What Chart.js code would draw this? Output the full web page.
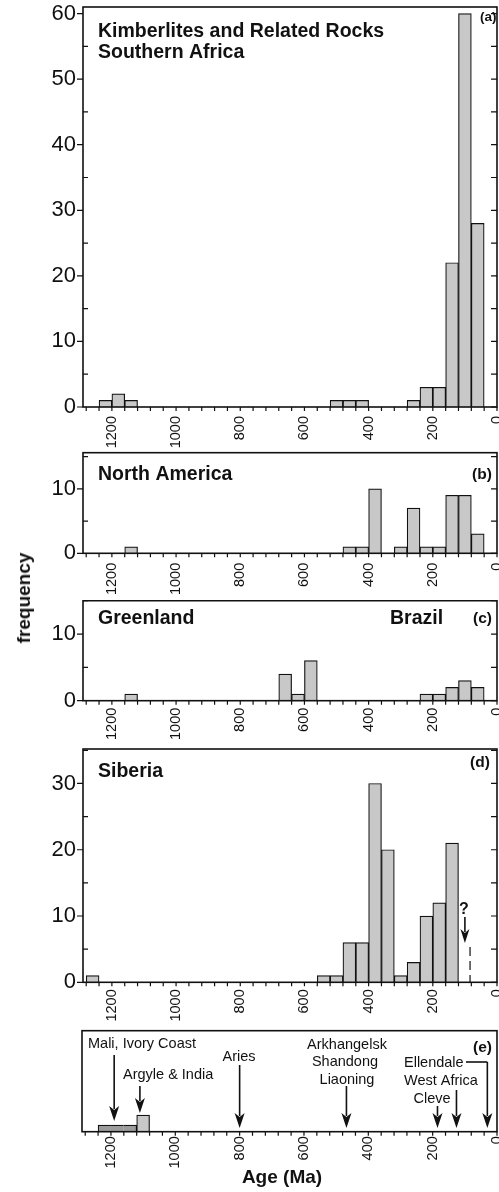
<!DOCTYPE html>
<html>
<head>
<meta charset="utf-8">
<script src="https://cdn.jsdelivr.net/npm/chart.js@4.4.1/dist/chart.umd.min.js"></script>
<style>
  body { margin: 0; background: #fff; }
  #wrap { position: relative; width: 499px; height: 1192px; overflow: hidden; }
  .panel { position: absolute; left: 0; width: 499px; }
  .lab { position: absolute; font-family: "Liberation Sans", Arial, sans-serif; font-weight: bold;
         font-size: 19px; color: #111; white-space: nowrap; transform: translate(-50%, -50%); }
</style>
</head>
<body>
<div id="wrap">
  <div class="panel" style="top:0;height:450px"><canvas id="pa"></canvas></div>
  <div class="panel" style="top:450px;height:150px"><canvas id="pb"></canvas></div>
  <div class="panel" style="top:600px;height:147px"><canvas id="pc"></canvas></div>
  <div class="panel" style="top:747px;height:281px"><canvas id="pd"></canvas></div>
  <div class="panel" style="top:1028px;height:164px"><canvas id="pe"></canvas></div>
  <div class="lab" style="left:24px;top:598px;transform:translate(-50%,-50%) rotate(-90deg)">frequency</div>
  <div class="lab" style="left:282px;top:1177px">Age (Ma)</div>
</div>
<script>
// bin centres (Ma), 40 Ma bins
const binAges = [1260, 1220, 1180, 1140, 1100, 1060, 1020, 980, 940, 900, 860, 820, 780, 740, 700, 660,
                 620, 580, 540, 500, 460, 420, 380, 340, 300, 260, 220, 180, 140, 100, 60, 20];
const southernAfrica = [0, 1, 2, 1, 0, 0, 0, 0, 0, 0, 0, 0, 0, 0, 0, 0,
                        0, 0, 0, 1, 1, 1, 0, 0, 0, 1, 3, 3, 22, 60, 28, 0];
const northAmerica   = [0, 0, 0, 1, 0, 0, 0, 0, 0, 0, 0, 0, 0, 0, 0, 0,
                        0, 0, 0, 0, 1, 1, 10, 0, 1, 7, 1, 1, 9, 9, 3, 0];
const greenlandBrazil = [0, 0, 0, 1, 0, 0, 0, 0, 0, 0, 0, 0, 0, 0, 0, 4,
                         1, 6, 0, 0, 0, 0, 0, 0, 0, 0, 1, 1, 2, 3, 2, 0];
const siberia        = [1, 0, 0, 0, 0, 0, 0, 0, 0, 0, 0, 0, 0, 0, 0, 0,
                        0, 0, 1, 1, 6, 6, 30, 20, 1, 3, 10, 12, 21, 0, 0, 0];
const otherAreas     = [0, 1, 1, 1, 2.5, 0, 0, 0, 0, 0, 0, 0, 0, 0, 0, 0,
                        0, 0, 0, 0, 0, 0, 0, 0, 0, 0, 0, 0, 0, 0, 0, 0];

// (d) uncertain young Siberian pipe: arrow age, dashed line age
const siberiaMarkAges = [100, 84];

// (e) single dated localities
const eventAges = [1190, 1110, 800, 468, 185, 126, 30];

const INK = '#111';
const FONT = '"Liberation Sans", Arial, Helvetica, sans-serif';
const BAR = '#c8c8c8';
const BAR_DARK = '#9c9c9c';

function arrow(ctx, px, y0, y1, hw, hl) {
  ctx.beginPath();
  ctx.moveTo(px, y0); ctx.lineTo(px, y1 - hl + 3);
  ctx.stroke();
  ctx.beginPath();
  ctx.moveTo(px, y1);
  ctx.lineTo(px - hw, y1 - hl);
  ctx.lineTo(px, y1 - hl + 4);
  ctx.lineTo(px + hw, y1 - hl);
  ctx.closePath();
  ctx.fill();
}

function makeDeco(cfg) {
  return {
    id: 'deco',
    afterDatasetsDraw(chart) {
      const { ctx, chartArea: a, scales: { x, y } } = chart;
      ctx.save();
      ctx.strokeStyle = INK;
      ctx.fillStyle = INK;
      ctx.lineWidth = 1.6;
      ctx.strokeRect(a.left, a.top, a.right - a.left, a.bottom - a.top);
      ctx.lineWidth = 1.2;
      ctx.beginPath();
      x.ticks.forEach(t => {
        const px = x.getPixelForValue(t.value);
        ctx.moveTo(px, a.bottom); ctx.lineTo(px, a.bottom + 4);
      });
      if (cfg.yTicks !== false) {
        y.ticks.forEach(t => {
          const py = y.getPixelForValue(t.value);
          if (t.value % 10 === 0) { ctx.moveTo(a.left - 6, py); ctx.lineTo(a.left, py); }
          else { ctx.moveTo(a.left, py); ctx.lineTo(a.left + 5, py); }
          ctx.moveTo(a.right - 6, py); ctx.lineTo(a.right, py);
        });
      }
      ctx.stroke();
      ctx.textBaseline = 'middle';
      (cfg.texts || []).forEach(([s, tx, ty, size, weight, align]) => {
        ctx.font = `${weight} ${size}px ${FONT}`;
        ctx.textAlign = align;
        ctx.fillText(s, tx, ty);
      });
      if (cfg.extra) cfg.extra(chart, ctx);
      ctx.restore();
    }
  };
}

function histogram(id, values, cfg) {
  const w = 1.2;
  return new Chart(document.getElementById(id), {
    type: 'bar',
    data: {
      datasets: [{
        data: binAges.map((age, i) => ({ x: age, y: values[i] })),
        backgroundColor: cfg.fill || BAR,
        borderColor: INK,
        borderWidth: cfg.merge ? (c => {
          const i = c.dataIndex, v = values[i];
          return { top: w, bottom: 0,
                   left: i > 0 && values[i - 1] === v ? 0 : w,
                   right: i < values.length - 1 && values[i + 1] === v ? 0 : w };
        }) : w,
        borderSkipped: 'bottom',
        barPercentage: 1,
        categoryPercentage: 1
      }]
    },
    options: {
      responsive: true,
      maintainAspectRatio: false,
      animation: false,
      layout: { padding: { top: cfg.padTop, right: 2, left: 0, bottom: 0 } },
      plugins: { legend: { display: false }, tooltip: { enabled: false } },
      scales: {
        x: {
          type: 'linear', reverse: true, min: 0, max: 1290, offset: false,
          grid: { display: false, drawTicks: false },
          border: { display: false },
          ticks: {
            stepSize: 40, includeBounds: false, autoSkip: false,
            minRotation: 90, maxRotation: 90, padding: cfg.labPad,
            color: INK, font: { family: FONT, size: 14.5 },
            callback: v => (v % 200 === 0 ? String(v) : '')
          },
          afterFit: s => { s.height = cfg.xHeight; s.paddingLeft = 0; s.paddingRight = 0; }
        },
        y: {
          min: 0, max: cfg.yMax,
          grid: { display: false, drawTicks: false },
          border: { display: false },
          ticks: {
            display: cfg.yLabels !== false,
            stepSize: 5, includeBounds: false, padding: 7,
            color: INK, font: { family: FONT, size: 22 },
            callback: v => (v % 10 === 0 && v <= (cfg.yLabelMax ?? 100) ? String(v) : '')
          },
          afterFit: s => { s.width = cfg.yWidth || 83; s.paddingTop = 0; s.paddingBottom = 0; }
        }
      }
    },
    plugins: [makeDeco(cfg)]
  });
}

histogram('pa', southernAfrica, {
  padTop: 7, xHeight: 43, yMax: 61, labPad: 9,
  texts: [
    ['Kimberlites and Related Rocks', 98, 32, 19.5, 'bold', 'left'],
    ['Southern Africa', 98, 53, 19.5, 'bold', 'left'],
    ['(a)', 480, 17, 13.5, 'bold', 'left']
  ]
});

histogram('pb', northAmerica, {
  padTop: 2.7, xHeight: 46.7, yMax: 15.6, labPad: 9.5, yLabelMax: 10,
  texts: [
    ['North America', 98, 25, 19.5, 'bold', 'left'],
    ['(b)', 472, 25, 15.5, 'bold', 'left']
  ]
});

histogram('pc', greenlandBrazil, {
  padTop: 0.7, xHeight: 46.3, yMax: 15, labPad: 7, yLabelMax: 10,
  texts: [
    ['Greenland', 98, 19, 19.5, 'bold', 'left'],
    ['Brazil', 390, 19, 19.5, 'bold', 'left'],
    ['(c)', 473, 19, 15.5, 'bold', 'left']
  ]
});

histogram('pd', siberia, {
  padTop: 2, xHeight: 45.7, yMax: 35.2, labPad: 7,
  texts: [
    ['Siberia', 98, 25, 19.5, 'bold', 'left'],
    ['(d)', 470, 16, 15.5, 'bold', 'left'],
    ['?', 464, 163, 16, 'bold', 'center']
  ],
  extra(chart, ctx) {
    const { x, y } = chart.scales;
    ctx.lineWidth = 1.6;
    arrow(ctx, x.getPixelForValue(siberiaMarkAges[0]), 170, 196, 4.5, 14);
    ctx.lineWidth = 1.2;
    ctx.setLineDash([9, 5]);
    const dx = x.getPixelForValue(siberiaMarkAges[1]);
    ctx.beginPath();
    ctx.moveTo(dx, 200); ctx.lineTo(dx, y.getPixelForValue(0));
    ctx.stroke();
    ctx.setLineDash([]);
  }
});

// (e) arrow tails / tips, canvas pixels
const eTail = [27, 58, 37, 58, 78, 62, 34];
const eTip  = [93, 85, 100, 100, 100, 100, 100];

histogram('pe', otherAreas, {
  padTop: 2.7, xHeight: 60.3, yMax: 15.3, labPad: 4.5, yLabels: false, yTicks: false, yWidth: 82,
  merge: true,
  fill: c => (c.dataIndex >= 1 && c.dataIndex <= 3 ? BAR_DARK : BAR),
  texts: [
    ['Mali, Ivory Coast', 88, 16, 14.5, 'normal', 'left'],
    ['Argyle & India', 123, 47, 14.5, 'normal', 'left'],
    ['Aries', 239, 29, 14.5, 'normal', 'center'],
    ['Arkhangelsk', 347, 17, 14.5, 'normal', 'center'],
    ['Shandong', 345, 34, 14.5, 'normal', 'center'],
    ['Liaoning', 347, 52, 14.5, 'normal', 'center'],
    ['Ellendale', 404, 35, 14.5, 'normal', 'left'],
    ['West Africa', 404, 53, 14.5, 'normal', 'left'],
    ['Cleve', 432, 71, 14.5, 'normal', 'center'],
    ['(e)', 473, 20, 15.5, 'bold', 'left']
  ],
  extra(chart, ctx) {
    const { x } = chart.scales;
    ctx.lineWidth = 1.6;
    eventAges.forEach((age, i) => {
      arrow(ctx, x.getPixelForValue(age), eTail[i], eTip[i], 5, 15);
    });
    const ex = x.getPixelForValue(eventAges[6]);
    ctx.beginPath();
    ctx.moveTo(466, eTail[6]); ctx.lineTo(ex, eTail[6]);
    ctx.stroke();
  }
});
</script>
</body>
</html>
